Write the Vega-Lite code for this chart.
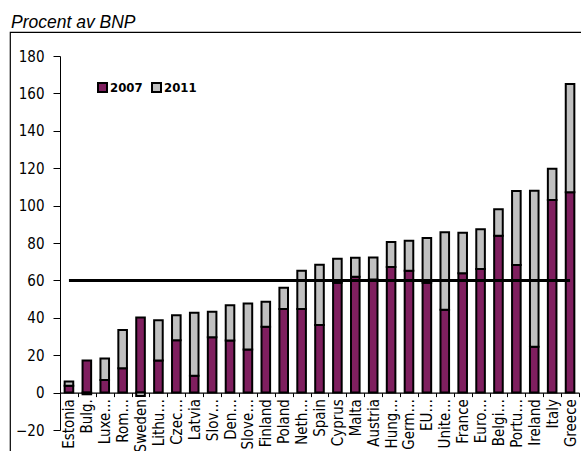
{
  "$schema": "https://vega.github.io/schema/vega-lite/v6.json",
  "autosize": "none",
  "padding": {"left": 10, "top": 32, "right": 0, "bottom": 0},
  "width": 619,
  "height": 440,
  "background": "white",
  "title": {
    "text": "Procent av BNP",
    "anchor": "start",
    "frame": "group",
    "dx": 1,
    "dy": 18,
    "offset": 5,
    "baseline": "alphabetic",
    "font": "Liberation Sans",
    "fontSize": 17.5,
    "fontStyle": "italic",
    "fontWeight": "normal",
    "color": "black"
  },
  "config": {
    "view": {"stroke": "black", "strokeWidth": 1.2},
    "axis": {
      "labelFont": "DejaVu Sans Condensed",
      "labelFontSize": 15,
      "labelColor": "black",
      "domainColor": "black",
      "tickColor": "black",
      "grid": false
    }
  },
  "encoding": {
    "x": {
      "field": "country",
      "type": "nominal",
      "sort": null,
      "scale": {
        "domain": ["Estonia", "Bulg.", "Luxe…", "Rom…", "Sweden", "Lithu…", "Czec…", "Latvia", "Slov…", "Den…", "Slove…", "Finland", "Poland", "Neth…", "Spain", "Cyprus", "Malta", "Austria", "Hung…", "Germ…", "EU…", "Unite…", "France", "Euro…", "Belgi…", "Portu…", "Ireland", "Italy", "Greece"],
        "range": [50, 569],
        "paddingInner": 0,
        "paddingOuter": 0
      },
      "axis": {
        "orient": "bottom",
        "offset": -79.4,
        "title": null,
        "labelAngle": -90,
        "labelOverlap": false,
        "tickBand": "extent",
        "tickSize": 4,
        "labelPadding": 2,
        "domainWidth": 1.3
      }
    },
    "y": {
      "field": "value",
      "type": "quantitative",
      "scale": {"domain": [-20, 180], "range": [398, 24], "nice": false, "zero": false},
      "axis": {
        "orient": "left",
        "offset": -50,
        "title": null,
        "values": [-20, 0, 20, 40, 60, 80, 100, 120, 140, 160, 180],
        "tickSize": 7,
        "labelPadding": 9
      }
    }
  },
  "layer": [
    {
      "data": {
        "values": [
          {"country": "Estonia", "series": "2007", "value": 3.7},
          {"country": "Estonia", "series": "2011", "value": 2.3},
          {"country": "Bulg.", "series": "2007", "value": 17.2},
          {"country": "Bulg.", "series": "2011", "value": -0.9},
          {"country": "Luxe…", "series": "2007", "value": 6.7},
          {"country": "Luxe…", "series": "2011", "value": 11.6},
          {"country": "Rom…", "series": "2007", "value": 13.0},
          {"country": "Rom…", "series": "2011", "value": 20.5},
          {"country": "Sweden", "series": "2007", "value": 40.2},
          {"country": "Sweden", "series": "2011", "value": -1.8},
          {"country": "Lithu…", "series": "2007", "value": 17.1},
          {"country": "Lithu…", "series": "2011", "value": 21.6},
          {"country": "Czec…", "series": "2007", "value": 28.0},
          {"country": "Czec…", "series": "2011", "value": 13.3},
          {"country": "Latvia", "series": "2007", "value": 9.0},
          {"country": "Latvia", "series": "2011", "value": 33.7},
          {"country": "Slov…", "series": "2007", "value": 29.6},
          {"country": "Slov…", "series": "2011", "value": 13.7},
          {"country": "Den…", "series": "2007", "value": 27.8},
          {"country": "Den…", "series": "2011", "value": 18.9},
          {"country": "Slove…", "series": "2007", "value": 23.1},
          {"country": "Slove…", "series": "2011", "value": 24.6},
          {"country": "Finland", "series": "2007", "value": 35.2},
          {"country": "Finland", "series": "2011", "value": 13.4},
          {"country": "Poland", "series": "2007", "value": 44.7},
          {"country": "Poland", "series": "2011", "value": 11.4},
          {"country": "Neth…", "series": "2007", "value": 44.7},
          {"country": "Neth…", "series": "2011", "value": 20.5},
          {"country": "Spain", "series": "2007", "value": 36.1},
          {"country": "Spain", "series": "2011", "value": 32.3},
          {"country": "Cyprus", "series": "2007", "value": 58.8},
          {"country": "Cyprus", "series": "2011", "value": 12.8},
          {"country": "Malta", "series": "2007", "value": 62.0},
          {"country": "Malta", "series": "2011", "value": 10.1},
          {"country": "Austria", "series": "2007", "value": 60.5},
          {"country": "Austria", "series": "2011", "value": 11.8},
          {"country": "Hung…", "series": "2007", "value": 67.2},
          {"country": "Hung…", "series": "2011", "value": 13.3},
          {"country": "Germ…", "series": "2007", "value": 65.2},
          {"country": "Germ…", "series": "2011", "value": 16.0},
          {"country": "EU…", "series": "2007", "value": 58.8},
          {"country": "EU…", "series": "2011", "value": 23.9},
          {"country": "Unite…", "series": "2007", "value": 44.3},
          {"country": "Unite…", "series": "2011", "value": 41.4},
          {"country": "France", "series": "2007", "value": 63.8},
          {"country": "France", "series": "2011", "value": 21.7},
          {"country": "Euro…", "series": "2007", "value": 66.1},
          {"country": "Euro…", "series": "2011", "value": 21.2},
          {"country": "Belgi…", "series": "2007", "value": 83.9},
          {"country": "Belgi…", "series": "2011", "value": 14.1},
          {"country": "Portu…", "series": "2007", "value": 68.2},
          {"country": "Portu…", "series": "2011", "value": 39.6},
          {"country": "Ireland", "series": "2007", "value": 24.5},
          {"country": "Ireland", "series": "2011", "value": 83.5},
          {"country": "Italy", "series": "2007", "value": 103.0},
          {"country": "Italy", "series": "2011", "value": 16.7},
          {"country": "Greece", "series": "2007", "value": 107.2},
          {"country": "Greece", "series": "2011", "value": 57.8}
        ]
      },
      "mark": {"type": "bar", "width": {"band": 0.48}, "stroke": "black", "strokeWidth": 2},
      "encoding": {
        "order": {"field": "series", "sort": "ascending"},
        "color": {
          "field": "series",
          "type": "nominal",
          "scale": {"domain": ["2007", "2011"], "range": ["#7F1F5F", "#C0C0C0"]},
          "legend": {
            "orient": "none",
            "legendX": 86,
            "legendY": 49,
            "direction": "horizontal",
            "title": null,
            "padding": 0,
            "symbolType": "square",
            "symbolSize": 81,
            "symbolStrokeColor": "black",
            "symbolStrokeWidth": 2,
            "symbolOpacity": 1,
            "labelFont": "DejaVu Sans Condensed",
            "labelFontWeight": "bold",
            "labelFontSize": 13,
            "labelColor": "black",
            "labelOffset": 1,
            "columnPadding": 5
          }
        }
      }
    },
    {
      "data": {
        "values": [
          {"country": "Estonia", "value": 60},
          {"country": "Greece", "value": 60}
        ]
      },
      "mark": {"type": "line", "color": "black", "strokeWidth": 3},
      "encoding": {}
    }
  ]
}
